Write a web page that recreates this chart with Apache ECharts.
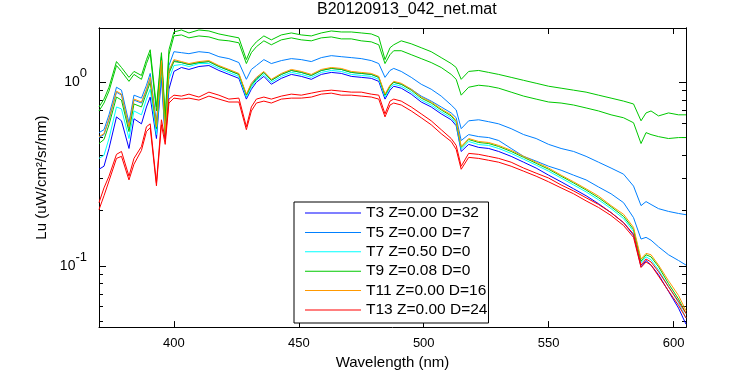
<!DOCTYPE html>
<html>
<head>
<meta charset="utf-8">
<script src="https://cdn.jsdelivr.net/npm/echarts@6/dist/echarts.min.js"></script>
<style>
  html, body { margin: 0; background: #fff; }
  #chart { width: 750px; height: 375px; }
</style>
</head>
<body>
<div id="chart"></div>
<script>
// wavelength grid (nm) shared by every cast
var wavelengths = [370, 372, 374, 377, 379, 382, 384, 387, 389, 390.5,
  393, 395, 396.5, 398, 400, 403, 406, 410, 414, 418,
  422, 426, 429, 431, 433, 436, 439, 443, 447, 451,
  455, 459, 463, 467, 471, 475, 479, 482, 484.5, 486.5,
  488, 491, 495, 499, 503, 507, 511, 513, 515, 518,
  522, 526, 530, 535, 540, 545, 550, 555, 560, 565,
  570, 575, 580, 584, 587, 589, 591, 594, 598, 602,
  605];

// Lu values
var t3 = [0.336, 0.349, 0.436, 0.648, 0.617, 0.436, 0.633, 0.594, 0.734, 0.831,
  0.494, 1.064, 0.494, 0.917, 1.146, 1.204, 1.175, 1.219, 1.234, 1.160,
  1.104, 1.051, 0.810, 0.917, 1.000, 1.077, 0.976, 1.051, 1.104, 1.077,
  1.038, 1.104, 1.132, 1.118, 1.077, 1.064, 1.051, 1.012, 0.810, 0.906,
  0.952, 0.929, 0.862, 0.781, 0.734, 0.673, 0.625, 0.580, 0.420, 0.459,
  0.442, 0.436, 0.420, 0.395, 0.367, 0.341, 0.312, 0.287, 0.263, 0.241,
  0.218, 0.195, 0.172, 0.147, 0.0988, 0.107, 0.101, 0.0895, 0.0727, 0.0589,
  0.0481];
var t5a = [0.532, 0.552, 0.665, 0.940, 0.906, 0.602, 0.851, 0.820, 0.964, 1.118,
  0.602, 1.379, 0.559, 1.234, 1.468, 1.450, 1.432, 1.468, 1.450, 1.379,
  1.346, 1.281, 1.038, 1.175, 1.234, 1.329, 1.265, 1.313, 1.346, 1.329,
  1.297, 1.363, 1.397, 1.379, 1.363, 1.346, 1.313, 1.265, 1.064, 1.160,
  1.190, 1.146, 1.064, 0.976, 0.917, 0.841, 0.752, 0.707, 0.559, 0.617,
  0.625, 0.610, 0.594, 0.559, 0.519, 0.494, 0.459, 0.436, 0.420, 0.395,
  0.367, 0.341, 0.316, 0.272, 0.213, 0.224, 0.216, 0.205, 0.198, 0.193,
  0.190];
var t5b = [0.500, 0.519, 0.625, 0.884, 0.851, 0.566, 0.800, 0.771, 0.906, 1.051,
  0.566, 1.297, 0.519, 1.146, 1.313, 1.281, 1.250, 1.281, 1.297, 1.219,
  1.160, 1.104, 0.851, 0.976, 1.051, 1.132, 1.025, 1.104, 1.160, 1.132,
  1.090, 1.160, 1.190, 1.175, 1.132, 1.118, 1.104, 1.064, 0.851, 0.952,
  1.000, 0.976, 0.917, 0.841, 0.790, 0.734, 0.681, 0.641, 0.482, 0.519,
  0.506, 0.500, 0.482, 0.436, 0.395, 0.372, 0.349, 0.332, 0.312, 0.294,
  0.269, 0.247, 0.221, 0.183, 0.140, 0.143, 0.138, 0.127, 0.115, 0.107,
  0.101];
var t7 = [0.385, 0.400, 0.494, 0.734, 0.716, 0.494, 0.698, 0.665, 0.810, 0.917,
  0.519, 1.175, 0.506, 1.038, 1.234, 1.250, 1.219, 1.265, 1.265, 1.190,
  1.132, 1.077, 0.831, 0.940, 1.025, 1.104, 1.000, 1.077, 1.132, 1.104,
  1.064, 1.132, 1.160, 1.146, 1.104, 1.090, 1.077, 1.038, 0.831, 0.929,
  0.976, 0.952, 0.884, 0.800, 0.752, 0.690, 0.641, 0.594, 0.431, 0.476,
  0.458, 0.453, 0.436, 0.410, 0.381, 0.354, 0.328, 0.301, 0.276, 0.253,
  0.229, 0.205, 0.181, 0.154, 0.104, 0.112, 0.108, 0.095, 0.077, 0.063,
  0.052];
var t9a = [0.734, 0.810, 0.940, 1.297, 1.204, 1.064, 1.146, 1.090, 1.329, 1.504,
  0.734, 1.450, 0.648, 1.504, 1.880, 1.928, 1.857, 1.928, 1.904, 1.834,
  1.789, 1.746, 1.329, 1.543, 1.661, 1.789, 1.703, 1.812, 1.857, 1.812,
  1.789, 1.857, 1.904, 1.880, 1.880, 1.857, 1.834, 1.767, 1.329, 1.543,
  1.601, 1.682, 1.621, 1.543, 1.468, 1.363, 1.265, 1.204, 1.038, 1.146,
  1.160, 1.132, 1.104, 1.064, 1.025, 0.988, 0.952, 0.929, 0.906, 0.884,
  0.851, 0.820, 0.790, 0.762, 0.617, 0.681, 0.698, 0.656, 0.681, 0.665,
  0.665];
var t9b = [0.698, 0.771, 0.895, 1.234, 1.146, 1.012, 1.104, 1.038, 1.265, 1.432,
  0.698, 1.379, 0.617, 1.414, 1.789, 1.812, 1.746, 1.789, 1.767, 1.703,
  1.682, 1.641, 1.265, 1.450, 1.562, 1.682, 1.601, 1.703, 1.746, 1.703,
  1.682, 1.746, 1.767, 1.724, 1.724, 1.682, 1.661, 1.601, 1.265, 1.414,
  1.486, 1.486, 1.414, 1.346, 1.281, 1.204, 1.104, 1.038, 0.851, 0.940,
  0.964, 0.952, 0.929, 0.884, 0.841, 0.810, 0.781, 0.771, 0.752, 0.725,
  0.698, 0.665, 0.641, 0.602, 0.464, 0.532, 0.519, 0.506, 0.494, 0.500,
  0.500];
var t9c = [0.464, 0.488, 0.587, 0.831, 0.800, 0.539, 0.762, 0.734, 0.873, 1.000,
  0.559, 1.250, 0.519, 1.118, 1.297, 1.281, 1.250, 1.281, 1.297, 1.219,
  1.160, 1.104, 0.851, 0.964, 1.038, 1.132, 1.025, 1.104, 1.160, 1.132,
  1.090, 1.160, 1.190, 1.175, 1.132, 1.118, 1.104, 1.064, 0.851, 0.952,
  1.000, 0.976, 0.906, 0.820, 0.771, 0.707, 0.656, 0.610, 0.442, 0.488,
  0.470, 0.464, 0.447, 0.420, 0.390, 0.362, 0.336, 0.308, 0.283, 0.259,
  0.235, 0.210, 0.186, 0.158, 0.106, 0.115, 0.112, 0.099, 0.080, 0.066,
  0.055];
var t11 = [0.506, 0.525, 0.633, 0.895, 0.862, 0.573, 0.810, 0.781, 0.917, 1.064,
  0.573, 1.313, 0.525, 1.160, 1.329, 1.297, 1.265, 1.297, 1.313, 1.234,
  1.175, 1.118, 0.862, 0.988, 1.064, 1.146, 1.038, 1.118, 1.175, 1.146,
  1.104, 1.175, 1.204, 1.190, 1.146, 1.132, 1.118, 1.077, 0.862, 0.964,
  1.012, 0.988, 0.917, 0.831, 0.781, 0.716, 0.665, 0.617, 0.447, 0.494,
  0.476, 0.470, 0.453, 0.426, 0.395, 0.367, 0.341, 0.312, 0.287, 0.263,
  0.240, 0.213, 0.191, 0.162, 0.109, 0.117, 0.115, 0.101, 0.083, 0.069,
  0.057];
var t13a = [0.221, 0.266, 0.308, 0.405, 0.420, 0.308, 0.385, 0.447, 0.573, 0.594,
  0.283, 0.625, 0.488, 0.810, 0.851, 0.841, 0.862, 0.831, 0.884, 0.851,
  0.810, 0.820, 0.573, 0.734, 0.810, 0.831, 0.810, 0.841, 0.862, 0.851,
  0.873, 0.895, 0.906, 0.895, 0.884, 0.884, 0.862, 0.851, 0.673, 0.790,
  0.810, 0.790, 0.734, 0.673, 0.617, 0.552, 0.494, 0.453, 0.349, 0.410,
  0.405, 0.395, 0.385, 0.367, 0.341, 0.320, 0.301, 0.276, 0.256, 0.235,
  0.216, 0.195, 0.172, 0.149, 0.101, 0.109, 0.105, 0.093, 0.077, 0.064,
  0.055];
var t13b = [0.2025, 0.241, 0.290, 0.385, 0.395, 0.294, 0.358, 0.426, 0.539, 0.566,
  0.273, 0.587, 0.459, 0.771, 0.820, 0.810, 0.820, 0.800, 0.841, 0.810,
  0.781, 0.781, 0.552, 0.698, 0.771, 0.790, 0.771, 0.810, 0.820, 0.820,
  0.831, 0.862, 0.873, 0.851, 0.851, 0.841, 0.831, 0.810, 0.648, 0.752,
  0.771, 0.752, 0.698, 0.641, 0.587, 0.525, 0.476, 0.431, 0.336, 0.390,
  0.385, 0.376, 0.367, 0.349, 0.328, 0.308, 0.287, 0.266, 0.247, 0.226,
  0.208, 0.188, 0.166, 0.143, 0.098, 0.105, 0.101, 0.088, 0.073, 0.061,
  0.052];

var legendNames = ['T3 Z=0.00 D=32', 'T5 Z=0.00 D=7', 'T7 Z=0.50 D=0',
  'T9 Z=0.08 D=0', 'T11 Z=0.00 D=16', 'T13 Z=0.00 D=24'];
var xTicks = [400, 450, 500, 550, 600];
var yMajor = [0.1, 1];
var yMinor = [0.05, 0.06, 0.07, 0.08, 0.09, 0.2, 0.3, 0.4, 0.5, 0.6, 0.7, 0.8, 0.9];

var font = '"Liberation Sans", Arial, Helvetica, sans-serif';
var yMin = 0.0464, yMax = 1.976;

var lines = [
  { name: legendNames[0], color: '#0000ff', values: t3 },
  { name: legendNames[1], color: '#0080ff', values: t5a },
  { name: legendNames[1], color: '#0080ff', values: t5b },
  { name: legendNames[2], color: '#00ffff', values: t7 },
  { name: legendNames[3], color: '#00c800', values: t9a },
  { name: legendNames[3], color: '#00c800', values: t9b },
  { name: legendNames[3], color: '#00c800', values: t9c },
  { name: legendNames[4], color: '#ff9900', values: t11 },
  { name: legendNames[5], color: '#ff0000', values: t13a },
  { name: legendNames[5], color: '#ff0000', values: t13b }
];

function xAxisDef(pos, showLabels) {
  return {
    type: 'value', position: pos, min: 370, max: 605,
    name: showLabels ? 'Wavelength (nm)' : '',
    nameLocation: 'middle', nameGap: 27,
    nameTextStyle: { fontSize: 15, color: '#000', fontFamily: font },
    axisLine: { show: true, onZero: false, lineStyle: { color: '#000', width: 1 } },
    axisTick: { show: true, inside: true, length: 6, customValues: xTicks, lineStyle: { color: '#000' } },
    axisLabel: { show: showLabels, customValues: xTicks, margin: 10, color: '#000', fontSize: 13, fontFamily: font },
    splitLine: { show: false }
  };
}

function yAxisDef(pos, ticks, len, showLabels) {
  return {
    type: 'log', logBase: 10, position: pos, min: yMin, max: yMax,
    name: showLabels ? 'Lu (uW/cm²/sr/nm)' : '',
    nameLocation: 'middle', nameGap: 36, nameRotate: 90,
    nameTextStyle: { fontSize: 15, color: '#000', fontFamily: font },
    axisLine: { show: true, onZero: false, lineStyle: { color: '#000', width: 1 } },
    axisTick: { show: true, inside: true, length: len, customValues: ticks, lineStyle: { color: '#000' } },
    axisLabel: {
      show: showLabels, customValues: ticks, margin: 12,
      formatter: function (v) {
        return '{b|10}{s|' + Math.round(Math.log10(v)) + '}';
      },
      rich: {
        b: { fontSize: 14, lineHeight: 30, color: '#000', fontFamily: font, verticalAlign: 'middle' },
        s: { fontSize: 13, lineHeight: 13, color: '#000', fontFamily: font, verticalAlign: 'top' }
      }
    },
    splitLine: { show: false }
  };
}

var chart = echarts.init(document.getElementById('chart'), null, { renderer: 'canvas' });

chart.setOption({
  animation: false,
  backgroundColor: '#fff',
  title: {
    text: 'B20120913_042_net.mat',
    left: 317, top: 2, padding: 0,
    textStyle: { fontSize: 16, fontWeight: 'normal', color: '#000', fontFamily: font }
  },
  grid: { left: 99, right: 64, top: 28, bottom: 44 },
  legend: {
    data: legendNames,
    orient: 'vertical', left: 294, top: 202,
    icon: 'rect', itemWidth: 56, itemHeight: 1, itemGap: 3.4,
    padding: [3, 1, 5, 11],
    borderColor: '#000', borderWidth: 1, borderRadius: 0, backgroundColor: '#fff',
    selectedMode: false,
    textStyle: { fontSize: 15.5, lineHeight: 16, color: '#000', fontFamily: font }
  },
  xAxis: [xAxisDef('bottom', true), xAxisDef('top', false)],
  yAxis: [
    yAxisDef('left', yMajor, 7, true),
    yAxisDef('left', yMinor, 4, false),
    yAxisDef('right', yMajor, 7, false),
    yAxisDef('right', yMinor, 4, false)
  ],
  series: lines.map(function (ln) {
    return {
      name: ln.name,
      type: 'line',
      xAxisIndex: 0, yAxisIndex: 0,
      symbol: 'none', showSymbol: false,
      lineStyle: { color: ln.color, width: 1 },
      itemStyle: { color: ln.color },
      data: wavelengths.map(function (w, i) { return [w, ln.values[i]]; })
    };
  })
});
</script>
</body>
</html>
